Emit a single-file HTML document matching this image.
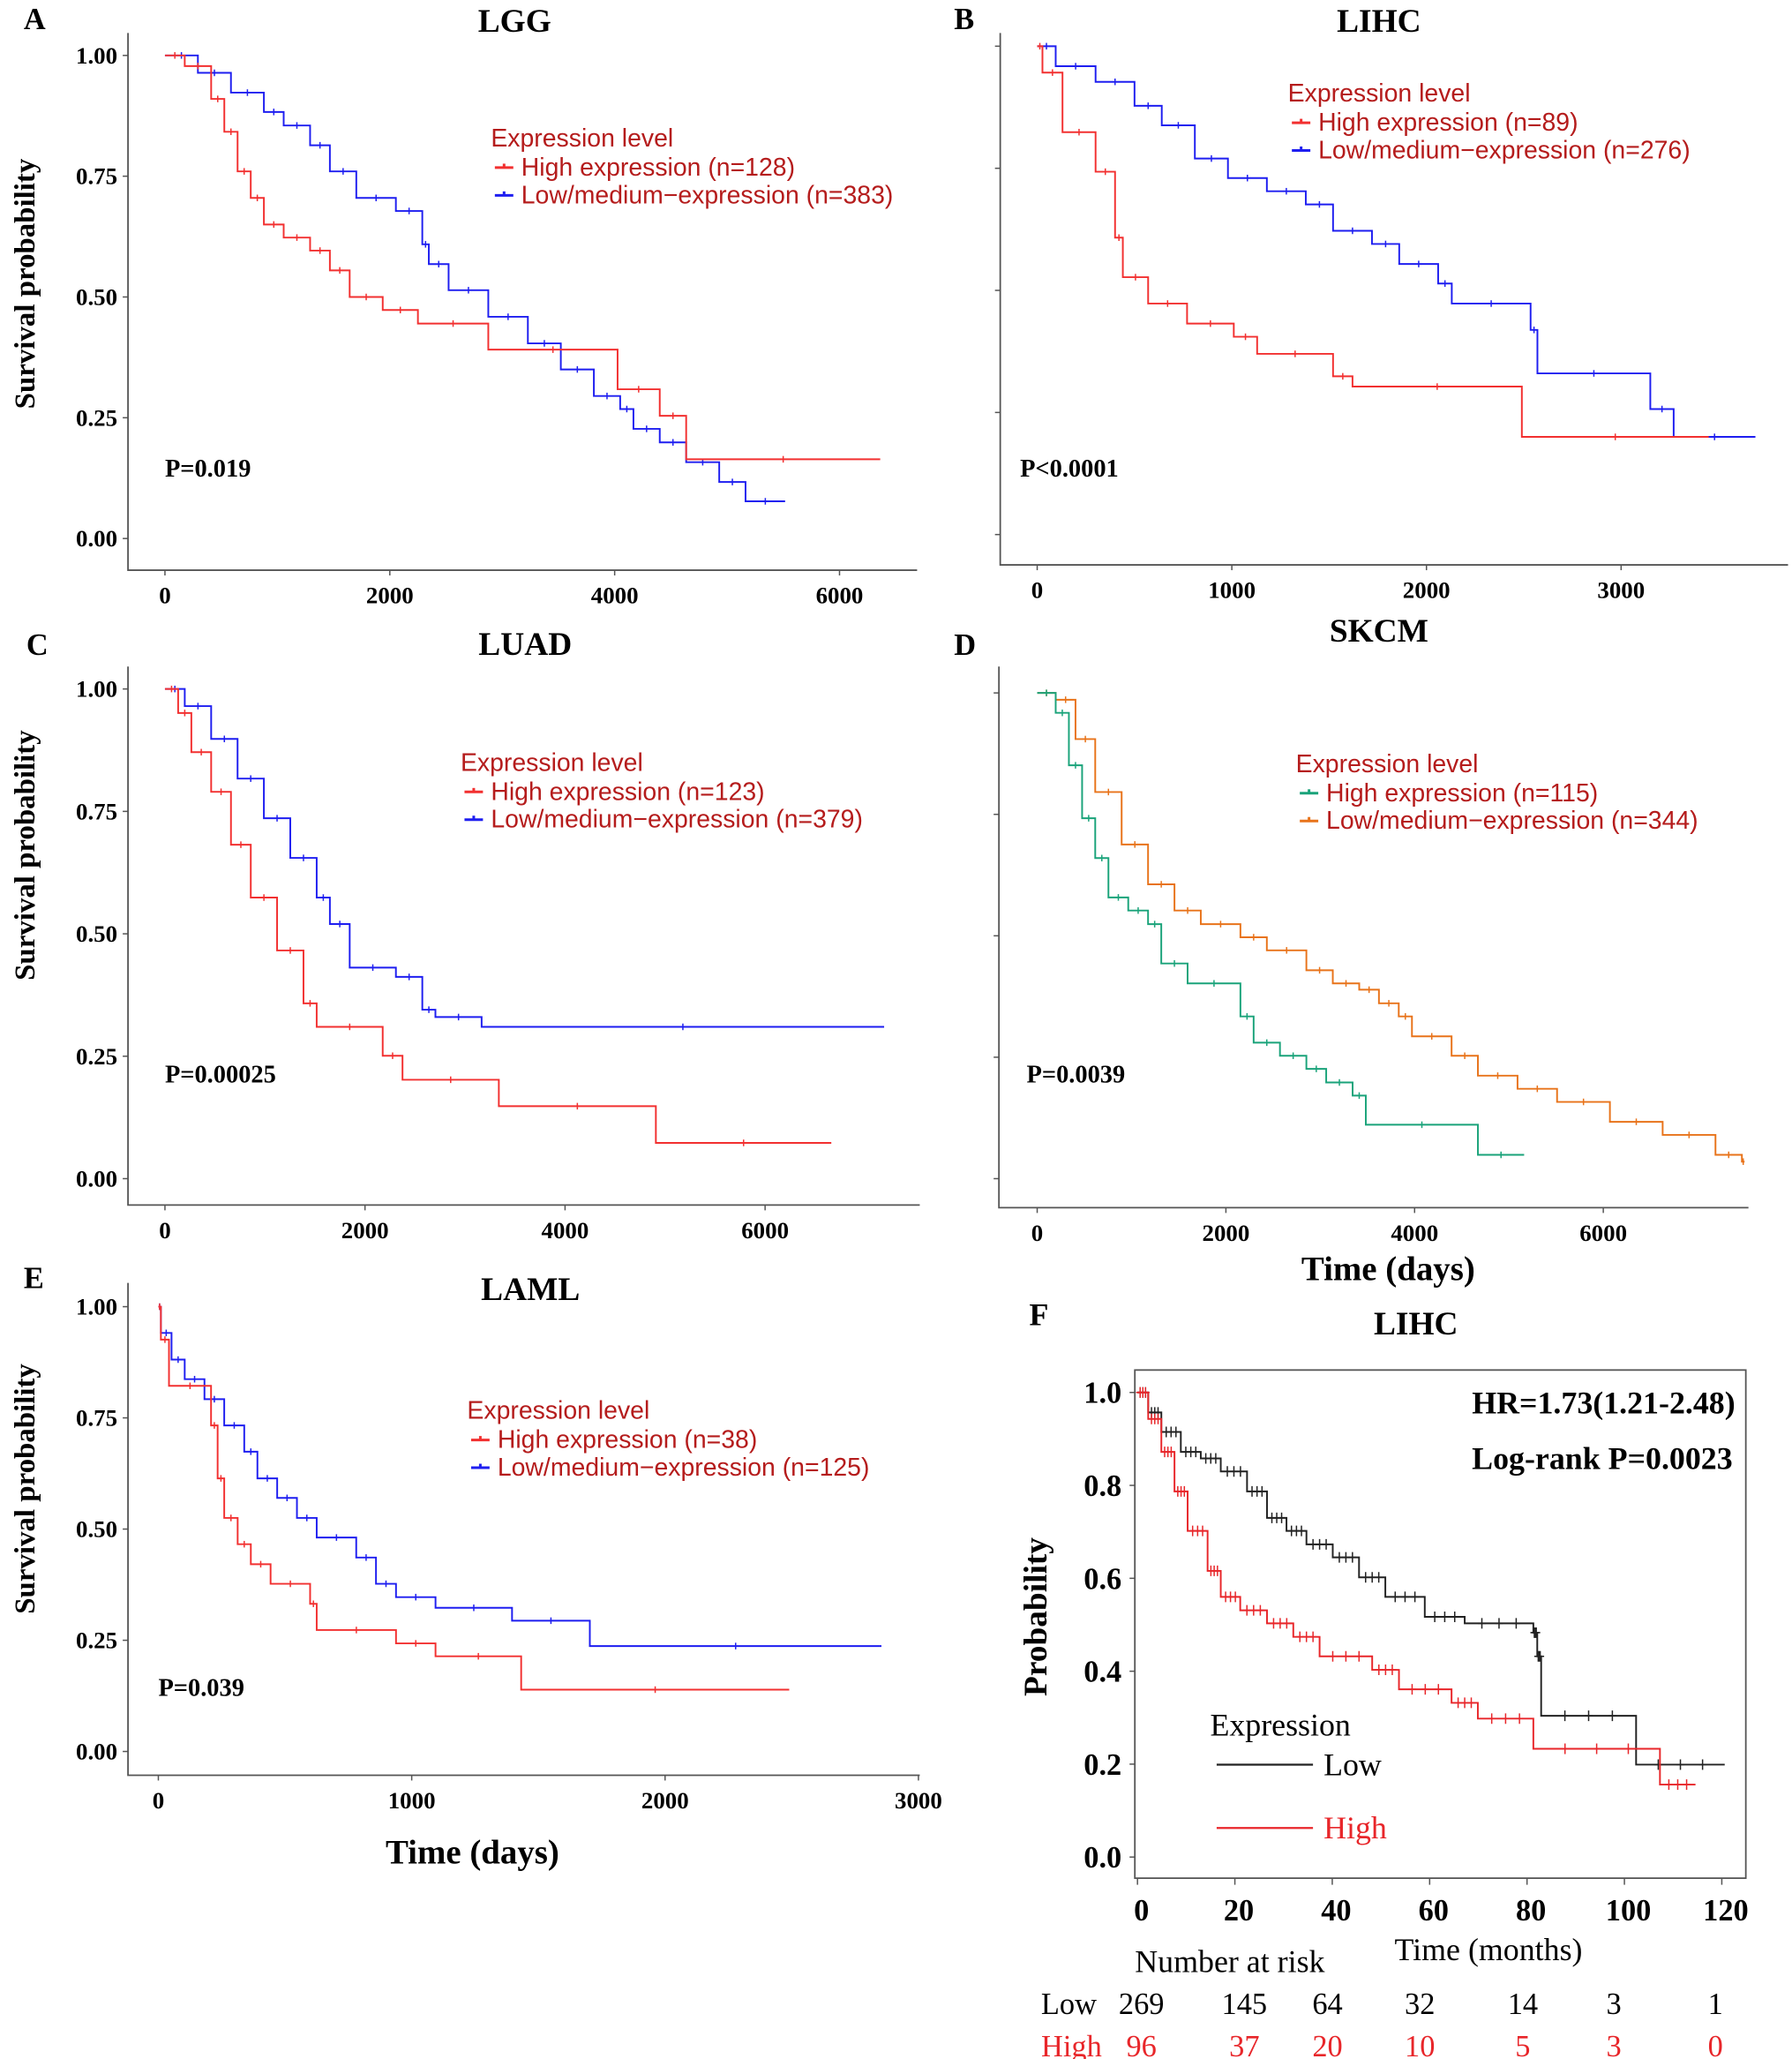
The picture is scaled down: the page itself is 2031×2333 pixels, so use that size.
<!DOCTYPE html>
<html><head><meta charset="utf-8"><style>
html,body{margin:0;padding:0;background:#fff}
svg{display:block}
.ser{font-family:"Liberation Serif",serif;font-weight:bold}
.sern{font-family:"Liberation Serif",serif;font-weight:normal}
.san{font-family:"Liberation Sans",sans-serif}
</style></head><body>
<svg id="fig" width="2031" height="2333" viewBox="0 0 1358 1560" preserveAspectRatio="none" xmlns="http://www.w3.org/2000/svg"></svg>
<script>
// ===== Data arrays =====
const lggHighT=[0,176,411,528,646,763,880,1056,1291,1467,1643,1937,2250,2876,4026,4401,4636];
const lggHighS=[1,.978,.91,.842,.76,.705,.65,.623,.596,.555,.5,.473,.445,.391,.309,.254,.164];
const lggHighEnd=6362;
const lggLowT=[0,293,587,880,1056,1291,1467,1702,2054,2289,2347,2523,2876,3228,3521,3815,4049,4167,4401,4636,4930,5164];
const lggLowS=[1,.964,.923,.883,.855,.814,.76,.705,.678,.609,.568,.514,.459,.404,.35,.295,.268,.227,.199,.158,.117,.077];
const lggLowEnd=5516;

const lihcHighT=[0,27,130,300,400,440,570,770,1010,1130,1520,1620,2490];
const lihcHighS=[1,.946,.824,.743,.608,.527,.473,.432,.405,.37,.324,.303,.2];
const lihcHighEnd=3450;
const lihcLowT=[0,95,300,500,640,810,980,1180,1380,1520,1720,1860,2060,2130,2535,2570,3150,3270];
const lihcLowS=[1,.959,.927,.878,.838,.77,.73,.703,.676,.622,.595,.554,.514,.473,.419,.33,.257,.2];
const lihcLowEnd=3690;

const luadHighT=[0,132,264,462,660,858,1121,1385,1517,2177,2375,3338,4908];
const luadHighS=[1,.951,.871,.79,.682,.574,.466,.358,.31,.251,.202,.148,.073];
const luadHighEnd=6662;
const luadLowT=[0,198,462,726,989,1253,1517,1649,1847,2309,2573,2704,3166];
const luadLowS=[1,.965,.898,.817,.736,.655,.574,.52,.431,.412,.345,.33,.31];
const luadLowEnd=7190;

const skcmHighT=[0,196,336,476,615,755,965,1175,1315,1594,2154,2294,2573,2853,3063,3343,3483,4671];
const skcmHighS=[1,.959,.851,.742,.66,.579,.552,.524,.443,.402,.334,.28,.253,.226,.198,.171,.111,.049];
const skcmHighEnd=5161;
const skcmLowT=[0,196,406,615,895,1175,1455,1734,2154,2434,2853,3133,3413,3622,3832,3972,4392,4671,5091,5510,6070,6629,7189,7469];
const skcmLowS=[1,.986,.905,.796,.688,.606,.552,.524,.497,.47,.429,.402,.389,.361,.334,.293,.253,.212,.185,.158,.117,.09,.049,.035];
const skcmLowEnd=7497;

const lamlHighT=[0,10,42,208,234,260,313,365,443,599,625,938,1094,1432];
const lamlHighS=[1,.926,.822,.733,.614,.525,.466,.421,.377,.332,.273,.243,.214,.139];
const lamlHighEnd=2490;
const lamlLowT=[0,10,52,104,182,260,339,391,469,547,625,781,859,938,1094,1396,1703];
const lamlLowS=[1,.941,.881,.837,.792,.733,.674,.614,.57,.525,.481,.436,.377,.347,.323,.294,.237];
const lamlLowEnd=2854;

const fLowT=[0,2.2,4.9,8.9,13,17.1,22.5,26.6,30.6,34.7,40.1,45.5,50.9,59,67.2,81.3,82.1,82.9,102.4];
const fLowS=[1,.957,.915,.872,.858,.83,.787,.73,.702,.673,.645,.602,.56,.517,.503,.483,.432,.304,.199];
const fLowEnd=120.6;
const fHighT=[0,2.2,4.9,7.6,10.3,14.4,17.1,21.1,26.6,32,37.4,48.2,53.7,64.5,69.9,81.3,107.3];
const fHighS=[1,.943,.872,.787,.702,.616,.56,.531,.503,.474,.432,.403,.361,.332,.298,.233,.156];
const fHighEnd=114.6;

const survTicks=["0.00","0.25","0.50","0.75","1.00"];
const survTickVals=[0,.25,.5,.75,1];
const fTickVals=[0,.2,.4,.6,.8,1];
const fTickLabels=["0.0","0.2","0.4","0.6","0.8","1.0"];
const fMonthTicks=[0,20,40,60,80,100,120];
const riskLow=[269,145,64,32,14,3,1];
const riskHigh=[96,37,20,10,5,3,0];

// ===== helpers =====
const NS="http://www.w3.org/2000/svg";
const svg=document.getElementById('fig');
function el(tag,attrs,parent){const e=document.createElementNS(NS,tag);for(const k in attrs)e.setAttribute(k,attrs[k]);(parent||svg).appendChild(e);return e;}
function txt(s,x,y,size,cls,fill,anchor,parent){const t=el('text',{x:x,y:y,'font-size':size,class:cls,fill:fill||'#000','text-anchor':anchor||'start'},parent);t.textContent=s;return t;}
function stepPath(T,S,end,xs,ys){let d='M'+xs(T[0])+','+ys(S[0]);for(let i=1;i<T.length;i++){d+=' H'+xs(T[i])+' V'+ys(S[i]);}d+=' H'+xs(end);return d;}
function drawCurve(g,T,S,end,xs,ys,color,w,name){
  const p=el('path',{d:stepPath(T,S,end,xs,ys),fill:'none',stroke:color,'stroke-width':w||1.3},g);
  
  
  for(let i=0;i<T.length;i++){const t1=i+1<T.length?T[i+1]:end;const tm=(T[i]+t1)/2;
    const c=el('line',{x1:xs(tm),x2:xs(tm),y1:ys(S[i])-2.5,y2:ys(S[i])+2.5,stroke:color,'stroke-width':1},g);
    
    }
}

function panel(o){
  const g=el('g',{});
  
  
  const xs=t=>o.x0+t*o.kx, ys=s=>o.y0-s*o.ky;
  const ax=el('path',{d:`M${o.ax},${o.top} V${o.bot} H${o.right}`,fill:'none',stroke:'#555','stroke-width':1.2},g);
  
  
  survTickVals.forEach((v,i)=>{
    el('line',{x1:o.ax-4,x2:o.ax,y1:ys(v),y2:ys(v),stroke:'#555'},g);
    if(o.ylabels){const t=txt(survTicks[i],o.ax-8,ys(v)+6,18,'ser','#000','end',g);
      
      }
  });
  o.xticks.forEach(v=>{
    el('line',{x1:xs(v),x2:xs(v),y1:o.bot,y2:o.bot+4,stroke:'#555'},g);
    const t=txt(String(v),xs(v),o.bot+25,18,'ser','#000','middle',g);
    
    
  });
  drawCurve(g,o.lowT,o.lowS,o.lowEnd,xs,ys,o.lowC,1.3,'low-expression-curve');
  drawCurve(g,o.highT,o.highS,o.highEnd,xs,ys,o.highC,1.3,'high-expression-curve');
  const lx=o.lg[0],ly=o.lg[1];
  const lt=txt('Expression level',lx,ly,19,'san','#b51c1c','start',g);
  
  
  [[o.highC,o.highLab],[o.lowC,o.lowLab]].forEach((e,i)=>{
    const yy=ly+22+i*21;
    el('line',{x1:lx+3,x2:lx+17,y1:yy-6,y2:yy-6,stroke:e[0],'stroke-width':2},g);
    el('line',{x1:lx+10,x2:lx+10,y1:yy-9,y2:yy-6,stroke:e[0],'stroke-width':2},g);
    const t=txt(e[1],lx+23,yy,19,'san','#b51c1c','start',g);
    
    
  });
  const pv=txt(o.p,o.pxy[0],o.pxy[1],19,'ser','#000','start',g);
  
  
  const ti=txt(o.title,o.tt[0],o.tt[1],25,'ser','#000','middle',g);
  
  
  const le=txt(o.letter,o.lt[0],o.lt[1],23,'ser','#000','start',g);
  
  
  if(o.ylab){const yl=txt('Survival probability',0,0,22,'ser','#000','middle',g);
    yl.setAttribute('transform',`translate(26,${o.ylab}) rotate(-90)`);
    
    }
}
const R='#f23030',B='#1e1ef0';
panel({name:'panel-a-lgg',x0:125,kx:0.0852,y0:408,ky:366,ax:97,top:25,bot:432,right:695,ylabels:true,xticks:[0,2000,4000,6000],
  lowT:lggLowT,lowS:lggLowS,lowEnd:lggLowEnd,highT:lggHighT,highS:lggHighS,highEnd:lggHighEnd,lowC:B,highC:R,
  lg:[372,111],highLab:'High expression (n=128)',lowLab:'Low/medium−expression (n=383)',p:'P=0.019',pxy:[125,361],title:'LGG',tt:[390,24],letter:'A',lt:[18,22],ylab:215});
panel({name:'panel-b-lihc',x0:786,kx:0.1475,y0:405,ky:370,ax:758,top:25,bot:428,right:1355,ylabels:false,xticks:[0,1000,2000,3000],
  lowT:lihcLowT,lowS:lihcLowS,lowEnd:lihcLowEnd,highT:lihcHighT,highS:lihcHighS,highEnd:lihcHighEnd,lowC:B,highC:R,
  lg:[976,77],highLab:'High expression (n=89)',lowLab:'Low/medium−expression (n=276)',p:'P<0.0001',pxy:[773,361],title:'LIHC',tt:[1045,24],letter:'B',lt:[723,22]});
panel({name:'panel-c-luad',x0:125,kx:0.0758,y0:893,ky:371,ax:97,top:505,bot:913,right:697,ylabels:true,xticks:[0,2000,4000,6000],
  lowT:luadLowT,lowS:luadLowS,lowEnd:luadLowEnd,highT:luadHighT,highS:luadHighS,highEnd:luadHighEnd,lowC:B,highC:R,
  lg:[349,584],highLab:'High expression (n=123)',lowLab:'Low/medium−expression (n=379)',p:'P=0.00025',pxy:[125,820],title:'LUAD',tt:[398,496],letter:'C',lt:[20,496],ylab:648});
panel({name:'panel-d-skcm',x0:786,kx:0.0715,y0:893,ky:368,ax:757,top:505,bot:915,right:1325,ylabels:false,xticks:[0,2000,4000,6000],
  lowT:skcmLowT,lowS:skcmLowS,lowEnd:skcmLowEnd,highT:skcmHighT,highS:skcmHighS,highEnd:skcmHighEnd,lowC:'#e8731a',highC:'#1aa37a',
  lg:[982,585],highLab:'High expression (n=115)',lowLab:'Low/medium−expression (n=344)',p:'P=0.0039',pxy:[778,820],title:'SKCM',tt:[1045,486],letter:'D',lt:[723,496]});
panel({name:'panel-e-laml',x0:120,kx:0.192,y0:1327,ky:337,ax:97,top:972,bot:1345,right:697,ylabels:true,xticks:[0,1000,2000,3000],
  lowT:lamlLowT,lowS:lamlLowS,lowEnd:lamlLowEnd,highT:lamlHighT,highS:lamlHighS,highEnd:lamlHighEnd,lowC:B,highC:R,
  lg:[354,1075],highLab:'High expression (n=38)',lowLab:'Low/medium−expression (n=125)',p:'P=0.039',pxy:[120,1285],title:'LAML',tt:[402,985],letter:'E',lt:[18,976],ylab:1128});
const t1=txt('Time (days)',1052,970,26,'ser','#000','middle');


const t2=txt('Time (days)',358,1412,26,'ser','#000','middle');



// ===== Panel F =====
(function(){
  const g=el('g',{});
  
  
  const xs=m=>862+m*3.69, ys=p=>1407-p*352;
  const box=el('rect',{x:860,y:1038,width:463,height:385,fill:'none',stroke:'#555','stroke-width':1.2},g);
  
  
  fTickVals.forEach((v,i)=>{el('line',{x1:856,x2:860,y1:ys(v),y2:ys(v),stroke:'#555'},g);
    const t=txt(fTickLabels[i],850,ys(v)+8,23,'ser','#000','end',g);
    
    });
  fMonthTicks.forEach(v=>{el('line',{x1:xs(v),x2:xs(v),y1:1423,y2:1428,stroke:'#555'},g);
    const t=txt(String(v),xs(v)+3,1455,23,'ser','#000','middle',g);
    
    });
  function cur(T,S,end,c,name){
    const p=el('path',{d:stepPath(T,S,end,xs,ys),fill:'none',stroke:c,'stroke-width':1.3},g);
    
    
    for(let i=0;i<T.length;i++){const t2=i+1<T.length?T[i+1]:end;
      for(let k=1;k<=3;k++){const tm=T[i]+(t2-T[i])*k/4;
        const pl=el('path',{d:`M${xs(tm)-3},${ys(S[i])} h6 M${xs(tm)},${ys(S[i])-4} v8`,stroke:c,'stroke-width':1,fill:'none'},g);
        
        }}
  }
  cur(fLowT,fLowS,fLowEnd,'#222','low-curve');
  cur(fHighT,fHighS,fHighEnd,'#e8262a','high-curve');
  const items=[['HR=1.73(1.21-2.48)',1315,1071,'end','#000','ser'],['Log-rank P=0.0023',1313,1113,'end','#000','ser'],
    ['Expression',917,1315,'start','#000','sern'],['Low',1003,1345,'start','#000','sern'],['High',1003,1393,'start','#e8262a','sern'],
    ['Time (months)',1128,1485,'middle','#000','sern'],['Number at risk',932,1494,'middle','#000','sern'],['LIHC',1073,1011,'middle','#000','ser'],['F',780,1004,'start','#000','ser']];
  items.forEach(a=>{const t=txt(a[0],a[1],a[2],a[0]==='LIHC'?25:24,a[5],a[4],a[3],g);
    
    });
  el('line',{x1:922,x2:995,y1:1337,y2:1337,stroke:'#222','stroke-width':1.5},g);
  el('line',{x1:922,x2:995,y1:1385,y2:1385,stroke:'#e8262a','stroke-width':1.5},g);
  const yl=txt('Probability',0,0,25,'ser','#000','middle',g);
  yl.setAttribute('transform','translate(793,1225) rotate(-90)');
  
  
  const riskX=[865,943,1006,1076,1154,1223,1300];
  const l1=txt('Low',810,1526,23,'sern','#000','middle',g);
  
  
  const l2=txt('High',812,1558,23,'sern','#e8262a','middle',g);
  
  
  riskLow.forEach((v,i)=>{const t=txt(String(v),riskX[i],1526,23,'sern','#000','middle',g);
    
    });
  riskHigh.forEach((v,i)=>{const t=txt(String(v),riskX[i],1558,23,'sern','#e8262a','middle',g);
    
    });
})();
</script>
</body></html>
